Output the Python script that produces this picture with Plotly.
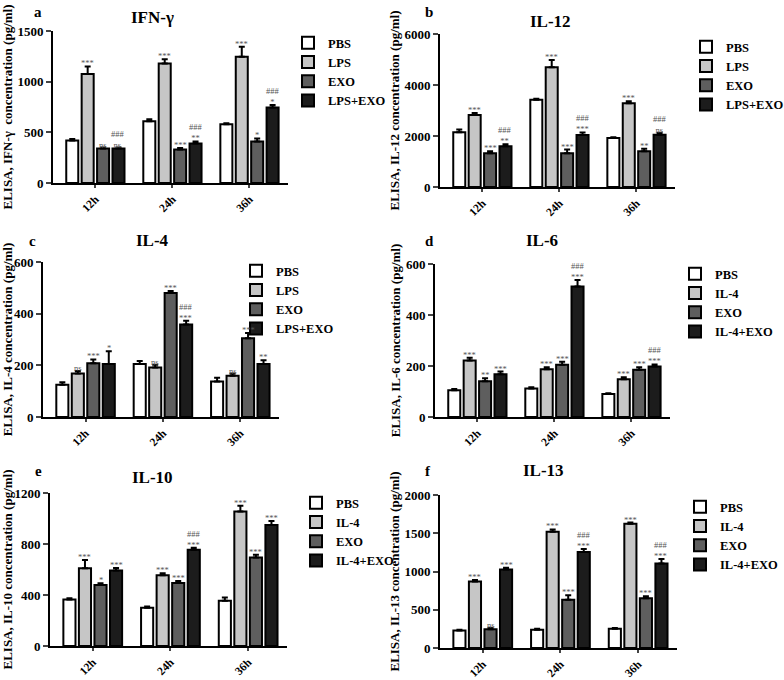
import plotly.graph_objects as go

# ---------------- data ----------------
times = ["12h", "24h", "36h"]
groups_lps = ["PBS", "LPS", "EXO", "LPS+EXO"]
groups_il4 = ["PBS", "IL-4", "EXO", "IL-4+EXO"]

ifng_mean = [[420, 610, 580], [1075, 1180, 1245], [340, 330, 410], [340, 390, 745]]
ifng_err = [[15, 20, 10], [75, 40, 100], [10, 15, 30], [10, 20, 25]]
ifng_sig = [["", "", ""], ["***", "***", "***"], ["ns", "***", "*"], ["###<br>ns", "###<br>**", "###<br>*"]]

il12_mean = [[2150, 3420, 1920], [2820, 4700, 3280], [1320, 1320, 1400], [1600, 2040, 2050]]
il12_err = [[100, 40, 30], [80, 280, 80], [80, 150, 100], [80, 100, 80]]
il12_sig = [["", "", ""], ["***", "***", "***"], ["***", "***", "**"], ["###<br>**", "###<br>***", "###<br>ns"]]

il4_mean = [[125, 205, 137], [168, 192, 160], [208, 480, 305], [205, 358, 205]]
il4_err = [[10, 12, 15], [10, 10, 8], [15, 8, 20], [50, 15, 15]]
il4_sig = [["", "", ""], ["ns", "ns", "ns"], ["***", "***", "***"], ["*", "###<br>***", "**"]]

il6_mean = [[105, 112, 90], [222, 187, 148], [140, 205, 185], [168, 512, 198]]
il6_err = [[5, 5, 3], [10, 8, 8], [12, 12, 10], [10, 25, 8]]
il6_sig = [["", "", ""], ["***", "***", "***"], ["**", "***", "***"], ["***", "###<br>***", "###<br>***"]]

il10_mean = [[365, 300, 355], [610, 555, 1055], [478, 495, 695], [592, 755, 950]]
il10_err = [[10, 10, 25], [65, 15, 45], [15, 15, 20], [20, 15, 30]]
il10_sig = [["", "", ""], ["***", "***", "***"], ["*", "***", "***"], ["***", "###<br>***", "***"]]

il13_mean = [[230, 240, 250], [870, 1520, 1625], [245, 630, 650], [1025, 1255, 1105]]
il13_err = [[10, 10, 10], [20, 30, 15], [20, 60, 25], [25, 40, 60]]
il13_sig = [["", "", ""], ["***", "***", "***"], ["ns", "***", "***"], ["***", "###<br>***", "###<br>***"]]

y_ticks = {
    "a": [0, 500, 1000, 1500],
    "b": [0, 2000, 4000, 6000],
    "c": [0, 200, 400, 600],
    "d": [0, 200, 400, 600],
    "e": [0, 400, 800, 1200],
    "f": [0, 500, 1000, 1500, 2000],
}

# ---------------- styling / layout ----------------
W, H = 784, 680
FONT = "Liberation Serif"
fills = ["#ffffff", "#c6c6c6", "#5e5e5e", "#1c1c1c"]
BARGAP = 0.2

panels = [
    dict(key="a", title="IFN-γ", ylab="ELISA, IFN-γ  concentration (pg/ml)", groups=groups_lps,
         mean=ifng_mean, err=ifng_err, sig=ifng_sig, x0=53, x1=288, yt=31, yb=183,
         lx=288, ly=28, letter=(32, 2), tpos=(152, 17)),
    dict(key="b", title="IL-12", ylab="ELISA, IL-12 concentration (pg/ml)", groups=groups_lps,
         mean=il12_mean, err=il12_err, sig=il12_sig, x0=440, x1=675, yt=34, yb=187,
         lx=686, ly=32, letter=(423, 2), tpos=(550, 21)),
    dict(key="c", title="IL-4", ylab="ELISA, IL-4 concentration (pg/ml)", groups=groups_lps,
         mean=il4_mean, err=il4_err, sig=il4_sig, x0=43, x1=279, yt=262, yb=417,
         lx=236, ly=256, letter=(27, 231), tpos=(152, 240)),
    dict(key="d", title="IL-6", ylab="ELISA, IL-6 concentration (pg/ml)", groups=groups_il4,
         mean=il6_mean, err=il6_err, sig=il6_sig, x0=435, x1=670, yt=264, yb=417,
         lx=675, ly=259, letter=(423, 231), tpos=(542, 240)),
    dict(key="e", title="IL-10", ylab="ELISA, IL-10 concentration (pg/ml)", groups=groups_il4,
         mean=il10_mean, err=il10_err, sig=il10_sig, x0=50, x1=287, yt=493, yb=646,
         lx=296, ly=488, letter=(33, 461), tpos=(152, 478)),
    dict(key="f", title="IL-13", ylab="ELISA, IL-13 concentration (pg/ml)", groups=groups_il4,
         mean=il13_mean, err=il13_err, sig=il13_sig, x0=440, x1=677, yt=495, yb=648,
         lx=680, ly=492, letter=(423, 461), tpos=(543, 470)),
]

fig = go.Figure()
annotations = []
layout_extra = {}
xpos = list(range(len(times)))
slot = (1 - BARGAP) / 4

for pi, p in enumerate(panels):
    n = pi + 1
    xa = "x" if n == 1 else f"x{n}"
    ya = "y" if n == 1 else f"y{n}"
    lg = "legend" if n == 1 else f"legend{n}"
    for k, name in enumerate(p["groups"]):
        fig.add_trace(go.Bar(
            x=xpos, y=p["mean"][k], name=name, xaxis=xa, yaxis=ya, legend=lg,
            marker=dict(color=fills[k], line=dict(color="black", width=2)),
            error_y=dict(type="data", symmetric=False, array=p["err"][k],
                         arrayminus=[0] * len(times), color="black", thickness=2, width=3),
        ))
        for i in range(len(times)):
            txt = p["sig"][k][i]
            if txt:
                annotations.append(dict(
                    x=i + (k - 1.5) * slot, y=p["mean"][k][i] + p["err"][k][i],
                    xref=xa, yref=ya, text=txt, showarrow=False, yanchor="bottom",
                    yshift=-4, font=dict(family=FONT, size=8.5, color="#555555")))
    ymax = y_ticks[p["key"]][-1]
    layout_extra[f"xaxis{'' if n == 1 else n}"] = dict(
        domain=[p["x0"] / W, p["x1"] / W], anchor=ya, range=[-0.55, 2.5], automargin=False,
        tickvals=xpos, ticktext=times, tickangle=-45, ticks="outside", ticklen=3, tickwidth=2,
        showline=True, linecolor="black", linewidth=2, showgrid=False, zeroline=False,
        tickfont=dict(family=FONT, size=11.5, color="black", weight="bold"), fixedrange=True)
    layout_extra[f"yaxis{'' if n == 1 else n}"] = dict(
        domain=[1 - p["yb"] / H, 1 - p["yt"] / H], anchor=xa, range=[0, ymax], automargin=False,
        tickvals=y_ticks[p["key"]], ticks="outside", ticklen=5, tickwidth=2,
        showline=True, linecolor="black", linewidth=2, showgrid=False, zeroline=False,
        tickfont=dict(family=FONT, size=13, color="black", weight="bold"),
        title=dict(text=p["ylab"], font=dict(family=FONT, size=13, color="black", weight="bold"),
                   standoff=2))
    layout_extra[lg] = dict(
        x=p["lx"] / W, y=1 - p["ly"] / H, xanchor="left", yanchor="top",
        font=dict(family=FONT, size=12.5, color="black", weight="bold"),
        bgcolor="rgba(0,0,0,0)", itemwidth=30, tracegroupgap=0)
    annotations.append(dict(x=p["letter"][0] / W, y=1 - p["letter"][1] / H, xref="paper", yref="paper",
                            xanchor="left", yanchor="top", text=p["key"], showarrow=False,
                            font=dict(family=FONT, size=15, color="black", weight="bold")))
    annotations.append(dict(x=p["tpos"][0] / W, y=1 - p["tpos"][1] / H, xref="paper", yref="paper",
                            xanchor="center", yanchor="middle", text=p["title"], showarrow=False,
                            font=dict(family=FONT, size=17, color="black", weight="bold")))

fig.update_layout(
    width=W, height=H, margin=dict(l=0, r=0, t=0, b=0, autoexpand=False),
    paper_bgcolor="white", plot_bgcolor="white",
    barmode="group", bargap=BARGAP, bargroupgap=0.22,
    showlegend=True, annotations=annotations, **layout_extra)

fig.write_html("out.html", config={"displayModeBar": False},
               post_script="document.body.style.margin='0px';document.body.style.overflow='hidden';")
